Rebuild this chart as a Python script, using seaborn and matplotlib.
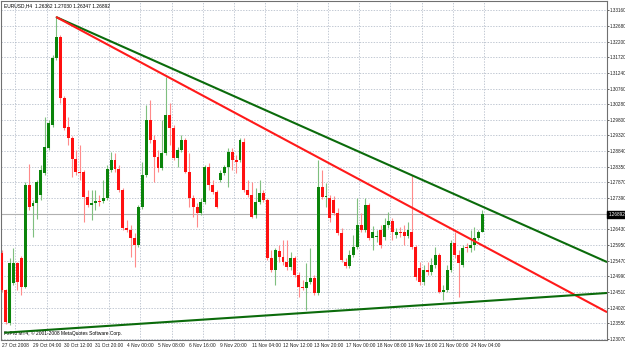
import matplotlib
matplotlib.use("Agg")
import matplotlib.pyplot as plt
import seaborn as sns
import pandas as pd

# EURUSD H4 candles, one entry per bar
opens = [1.2570, 1.2456, 1.2355, 1.2478, 1.2539, 1.2555, 1.2466, 1.2779, 1.2715, 1.2724,
         1.2749, 1.2816, 1.2893, 1.2964, 1.3170, 1.3235, 1.3047, 1.2958, 1.2924, 1.2859,
         1.2819, 1.2819, 1.2742, 1.2718, 1.2724, 1.2730, 1.2730, 1.2739, 1.2825, 1.2856, 1.2829,
         1.2764, 1.2647, 1.2641, 1.2616, 1.2595, 1.2712, 1.2810, 1.2979, 1.2918, 1.2865,
         1.2832, 1.2878, 1.2995, 1.2955, 1.2862, 1.2887, 1.2918, 1.2819, 1.2739, 1.2712,
         1.2693, 1.2727, 1.2835, 1.2779, 1.2758, 1.2795, 1.2816, 1.2835, 1.2881, 1.2856, 1.2856,
         1.2912, 1.2764, 1.2749, 1.2687, 1.2727, 1.2755, 1.2733, 1.2555, 1.2518, 1.2576,
         1.2558, 1.2542, 1.2527, 1.2555, 1.2502, 1.2466, 1.2462, 1.2481, 1.2493, 1.2447,
         1.2773, 1.2742, 1.2739, 1.2733, 1.2693, 1.2632, 1.2542, 1.2530, 1.2564, 1.2589,
         1.2656, 1.2641, 1.2718, 1.2616, 1.2619, 1.2641, 1.2619, 1.2656, 1.2669, 1.2625, 1.2635,
         1.2635, 1.2622, 1.2635, 1.2589, 1.2524, 1.2481, 1.2518, 1.2512, 1.2533, 1.2564,
         1.2450, 1.2456, 1.2518, 1.2601, 1.2564, 1.2533, 1.2589, 1.2585, 1.2595, 1.2616,
         1.26362]
highs = [1.2579, 1.2459, 1.2555, 1.2585, 1.2542, 1.2561, 1.2789, 1.2844, 1.2733, 1.2795,
         1.2841, 1.2988, 1.2979, 1.3179, 1.3296, 1.3241, 1.3053, 1.2988, 1.2930, 1.2887,
         1.2902, 1.2825, 1.2764, 1.2764, 1.2764, 1.2750, 1.2795, 1.2841, 1.2881, 1.2878, 1.2841,
         1.2770, 1.2672, 1.2656, 1.2632, 1.2718, 1.2850, 1.3025, 1.3041, 1.2933, 1.2887,
         1.2979, 1.3111, 1.3031, 1.2964, 1.2896, 1.2933, 1.2924, 1.2878, 1.2749, 1.2724,
         1.2739, 1.2841, 1.2847, 1.2795, 1.2764, 1.2825, 1.2840, 1.2893, 1.2893, 1.2872, 1.2924,
         1.2924, 1.2795, 1.2789, 1.2770, 1.2795, 1.2764, 1.2739, 1.2579, 1.2585, 1.2595,
         1.2610, 1.2610, 1.2573, 1.2561, 1.2512, 1.2487, 1.2539, 1.2585, 1.2502, 1.2856,
         1.2825, 1.2785, 1.2749, 1.2745, 1.2709, 1.2647, 1.2555, 1.2579, 1.2625, 1.2739,
         1.2693, 1.2739, 1.2724, 1.2653, 1.2641, 1.2656, 1.2678, 1.2696, 1.2678, 1.2647, 1.2650,
         1.2656, 1.2665, 1.2810, 1.2595, 1.2542, 1.2533, 1.2542, 1.2555, 1.2589, 1.2570,
         1.2472, 1.2533, 1.2610, 1.2635, 1.2579, 1.2595, 1.2601, 1.2641, 1.2650, 1.2641,
         1.27030]
lows = [1.2450, 1.2352, 1.2349, 1.2472, 1.2456, 1.2441, 1.2462, 1.2702, 1.2619, 1.2675,
        1.2733, 1.2810, 1.2887, 1.2958, 1.3164, 1.3031, 1.2948, 1.2902, 1.2804, 1.2810,
        1.2795, 1.2665, 1.2712, 1.2672, 1.2702, 1.2715, 1.2724, 1.2733, 1.2819, 1.2819, 1.2758,
        1.2641, 1.2635, 1.2558, 1.2527, 1.2589, 1.2705, 1.2804, 1.2908, 1.2789, 1.2819,
        1.2825, 1.2872, 1.2902, 1.2856, 1.2835, 1.2881, 1.2816, 1.2712, 1.2681, 1.2650,
        1.2687, 1.2721, 1.2764, 1.2752, 1.2709, 1.2789, 1.2810, 1.2773, 1.2825, 1.2816, 1.2850,
        1.2758, 1.2742, 1.2678, 1.2678, 1.2721, 1.2727, 1.2548, 1.2512, 1.2472, 1.2542,
        1.2533, 1.2518, 1.2518, 1.2496, 1.2435, 1.2456, 1.2395, 1.2475, 1.2441, 1.2441,
        1.2736, 1.2712, 1.2665, 1.2687, 1.2625, 1.2542, 1.2524, 1.2524, 1.2558, 1.2582,
        1.2635, 1.2635, 1.2610, 1.2579, 1.2604, 1.2585, 1.2610, 1.2647, 1.2610, 1.2616, 1.2620,
        1.2595, 1.2616, 1.2582, 1.2487, 1.2472, 1.2472, 1.2502, 1.2502, 1.2524, 1.2447,
        1.2426, 1.2450, 1.2512, 1.2555, 1.2435, 1.2527, 1.2573, 1.2573, 1.2579, 1.2610,
        1.26347]
closes = [1.2456, 1.2358, 1.2539, 1.2539, 1.2481, 1.2466, 1.2779, 1.2712, 1.2724, 1.2789,
          1.2825, 1.2896, 1.2970, 1.3170, 1.3235, 1.3047, 1.2955, 1.2924, 1.2859, 1.2819,
          1.2816, 1.2742, 1.2718, 1.2724, 1.2730, 1.2727, 1.2739, 1.2829, 1.2856, 1.2829, 1.2764,
          1.2647, 1.2641, 1.2616, 1.2595, 1.2712, 1.2810, 1.2979, 1.2918, 1.2865, 1.2832,
          1.2878, 1.2995, 1.2955, 1.2862, 1.2887, 1.2918, 1.2819, 1.2739, 1.2712, 1.2693,
          1.2727, 1.2835, 1.2779, 1.2758, 1.2712, 1.2816, 1.2835, 1.2881, 1.2856, 1.2850, 1.2918,
          1.2764, 1.2749, 1.2681, 1.2727, 1.2755, 1.2733, 1.2555, 1.2518, 1.2579, 1.2558,
          1.2542, 1.2527, 1.2555, 1.2502, 1.2466, 1.2462, 1.2481, 1.2493, 1.2447, 1.2773,
          1.2742, 1.2745, 1.2678, 1.2693, 1.2632, 1.2548, 1.2530, 1.2564, 1.2589, 1.2656,
          1.2641, 1.2718, 1.2616, 1.2635, 1.2622, 1.2595, 1.2656, 1.2669, 1.2635, 1.2635, 1.2632,
          1.2622, 1.2641, 1.2589, 1.2496, 1.2481, 1.2518, 1.2512, 1.2533, 1.2564, 1.2450,
          1.2456, 1.2518, 1.2601, 1.2564, 1.2539, 1.2585, 1.2585, 1.2595, 1.2616, 1.2635,
          1.26892]

# trendlines: (bar, price) end points
upper_green_bars = [14.08, 154.8]
upper_green_prices = [1.3295, 1.2543]
red_bars = [14.08, 154.8]
red_prices = [1.3295, 1.2389]
lower_green_bars = [0.85, 154.8]
lower_green_prices = [1.2325, 1.2447]

price_ticks = [1.33160, 1.32680, 1.32200, 1.31720, 1.31240, 1.30760, 1.30280, 1.29800,
               1.29320, 1.28840, 1.28350, 1.27870, 1.27390, 1.26430, 1.25950,
               1.25470, 1.24990, 1.24510, 1.24020, 1.23550, 1.23070]
time_tick_bars = [0, 8, 16, 24, 32, 40, 48, 56, 64, 72, 80, 88, 96, 104, 112, 120]
time_tick_labels = ["27 Oct 2008", "29 Oct 04:00", "30 Oct 12:00", "31 Oct 20:00",
                    "4 Nov 00:00", "5 Nov 08:00", "6 Nov 16:00", "9 Nov 20:00",
                    "11 Nov 04:00", "12 Nov 12:00", "13 Nov 20:00", "17 Nov 00:00",
                    "18 Nov 08:00", "19 Nov 16:00", "21 Nov 00:00", "24 Nov 04:00"]

df = pd.DataFrame({"open": opens, "high": highs, "low": lows, "close": closes})
df["bar"] = range(len(df))
df["up"] = df["close"] >= df["open"]

sns.set_style("white")
plt.rcParams["font.family"] = ["Liberation Sans", "DejaVu Sans"]

fig = plt.figure(figsize=(6.25, 3.49), dpi=100)
ax = fig.add_axes([0.5 / 625, 9 / 349, 606 / 625, 339 / 349])

GREEN = "#0a840a"
RED = "#ff1010"
FS = 3.5

# dotted grid
for t in price_ticks:
    ax.axhline(t, color="#aab3c2", lw=0.5, ls=(0, (2, 2)), zorder=0)
for b in time_tick_bars:
    ax.axvline(b + 3.5, color="#aab3c2", lw=0.5, ls=(0, (2, 2)), zorder=0)

# current price line
ax.axhline(closes[-1], color="#b0b0b0", lw=0.8, zorder=1)

# candles
for up, color, wick in [(True, GREEN, "#7fbf7f"), (False, RED, "#ff8a8a")]:
    d = df[df["up"] == up]
    ax.vlines(d["bar"], d["low"], d["high"], color=wick, lw=0.8, zorder=2)
    h = (d["close"] - d["open"]).where((d["close"] - d["open"]).abs() > 0.00005, 0.00008)
    ax.bar(d["bar"], h, bottom=d["open"], width=0.75, color=color, linewidth=0, zorder=3)

# trendlines
sns.lineplot(x=upper_green_bars, y=upper_green_prices, ax=ax, color="#0b6b0b", lw=1.5, zorder=4)
sns.lineplot(x=red_bars, y=red_prices, ax=ax, color="#ff1a1a", lw=1.5, zorder=4)
sns.lineplot(x=lower_green_bars, y=lower_green_prices, ax=ax, color="#0b6b0b", lw=1.5, zorder=4)

ax.set_xlim(-0.31, 154.8)
ax.set_ylim(1.23025, 1.33452)

ax.yaxis.tick_right()
ax.set_yticks(price_ticks)
ax.set_yticklabels([f"{t:.5f}" for t in price_ticks], fontsize=3.3)
ax.set_xticks(time_tick_bars)
ax.set_xticklabels(time_tick_labels, fontsize=FS, ha="left")
ax.tick_params(axis="both", length=1.5, width=0.5, pad=0.8, colors="#202020")
ax.set_xlabel("")
ax.set_ylabel("")
for s in ax.spines.values():
    s.set_color("#707070")
    s.set_linewidth(0.8)

# current price marker
ax.text(1.003, closes[-1], f"{closes[-1]:.5f}", transform=ax.get_yaxis_transform(),
        fontsize=3.3, color="white", va="center", ha="left",
        bbox=dict(boxstyle="square,pad=0.2", fc="black", ec="black"))

ax.text(0.005, 0.992, "EURUSD,H4  1.26362 1.27030 1.26347 1.26892", transform=ax.transAxes,
        fontsize=FS, va="top", ha="left", color="black")
ax.text(0.005, 0.012, "FxPro MT4, \u00a9 2001-2008 MetaQuotes Software Corp.",
        transform=ax.transAxes, fontsize=FS, va="bottom", ha="left", color="black")

fig.savefig("out.png", dpi=100)
